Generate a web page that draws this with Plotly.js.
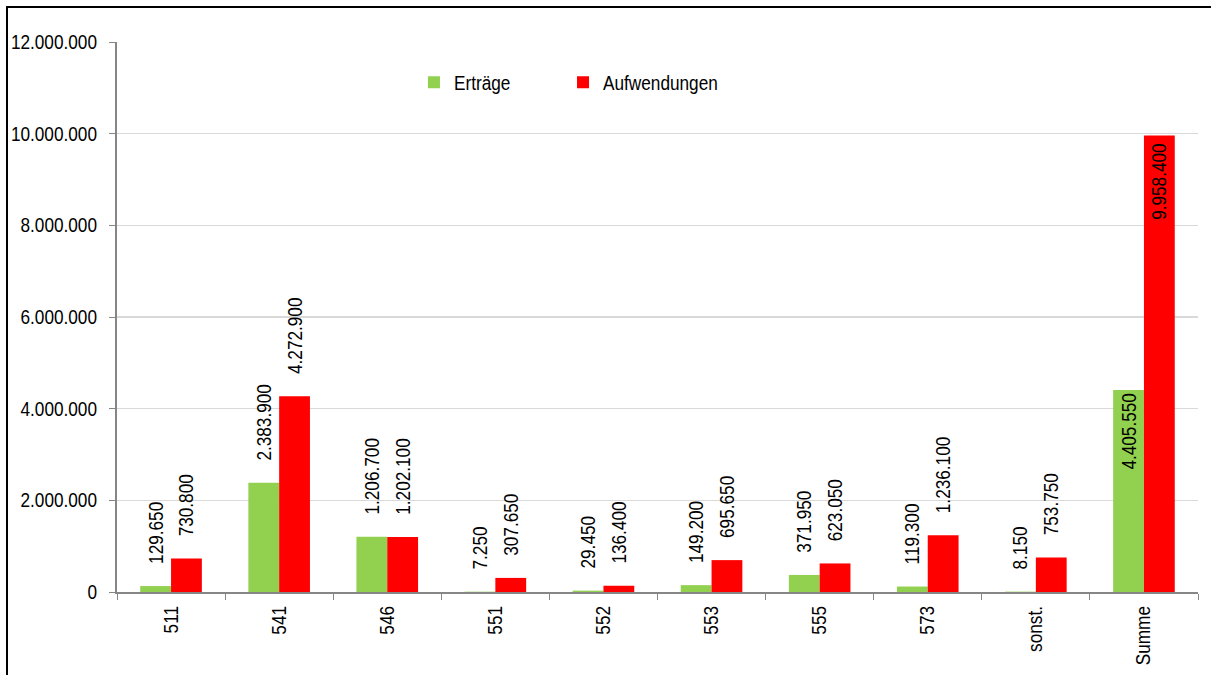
<!DOCTYPE html>
<html>
<head>
<meta charset="utf-8">
<script src="https://cdn.plot.ly/plotly-3.0.1.min.js"></script>
<style>
  html, body { margin: 0; padding: 0; background: #fff; width: 1211px; height: 675px; overflow: hidden; }
  #frame { position: absolute; left: 6px; top: 6px; width: 1205px; height: 669px; border-left: 2px solid #000; border-top: 2px solid #000; }
  #chart { width: 1203px; height: 667px; }
</style>
</head>
<body>
<div id="frame"><div id="chart"></div></div>
<script>
const categories = ["511", "541", "546", "551", "552", "553", "555", "573", "sonst.", "Summe"];
const ertraege = [129650, 2383900, 1206700, 7250, 29450, 149200, 371950, 119300, 8150, 4405550];
const aufwendungen = [730800, 4272900, 1202100, 307650, 136400, 695650, 623050, 1236100, 753750, 9958400];
const seriesNames = ["Erträge", "Aufwendungen"];
const yTicks = [0, 2000000, 4000000, 6000000, 8000000, 10000000, 12000000];

const FONT = "Liberation Sans, Arial, sans-serif";
const FS = 20;
const NARROW = 0.86; // horizontal squeeze to imitate a narrow font
const lastIdx = categories.length - 1;
const positions = categories.map((c, i) => i === lastIdx ? "inside" : "outside");

function barTrace(name, values, color, legendId, lastSuffix) {
  return {
    type: "bar",
    name: name,
    legend: legendId,
    x: categories,
    y: values,
    marker: { color: color, line: { width: 0 } },
    texttemplate: categories.map((c, i) => i === lastIdx ? "%{y:,.0f}" + lastSuffix : "\u2007\u2007%{y:,.0f}"),
    textposition: positions,
    insidetextanchor: "end",
    textangle: -90,
    constraintext: "none",
    cliponaxis: false,
    textfont: { family: FONT, size: FS, color: "#000" },
    hoverinfo: "x+y"
  };
}

const data = [
  barTrace(seriesNames[0], ertraege, "#92D050", "legend", ""),
  barTrace(seriesNames[1], aufwendungen, "#FF0000", "legend2", "\u2008")
];

const legendBase = {
  orientation: "h",
  xanchor: "left",
  y: 0.927,
  yanchor: "middle",
  bgcolor: "rgba(0,0,0,0)",
  font: { family: FONT, size: FS, color: "#000" },
  itemwidth: 30
};

const layout = {
  width: 1203,
  height: 667,
  margin: { l: 109, r: 13, t: 34, b: 83 },
  paper_bgcolor: "#fff",
  plot_bgcolor: "#fff",
  separators: ",.",
  barmode: "group",
  bargap: 0.43,
  bargroupgap: 0,
  font: { family: FONT, size: FS, color: "#000" },
  showlegend: true,
  legend: Object.assign({}, legendBase, { x: 0.2747 }),
  legend2: Object.assign({}, legendBase, { x: 0.4126 }),
  xaxis: {
    type: "category",
    showline: true,
    linecolor: "#868686",
    linewidth: 2,
    ticks: "outside",
    tickson: "boundaries",
    ticklen: 6,
    tickcolor: "#868686",
    tickwidth: 1,
    tickangle: -90,
    ticklabelstandoff: 4,
    tickfont: { family: FONT, size: FS, color: "#000" },
    showgrid: false,
    zeroline: false,
    fixedrange: true
  },
  yaxis: {
    range: [0, 12000000],
    tickvals: yTicks,
    tickformat: ",.0f",
    showline: true,
    linecolor: "#868686",
    linewidth: 2,
    ticks: "outside",
    ticklen: 6,
    tickcolor: "#868686",
    tickwidth: 1,
    ticklabelstandoff: 8,
    tickfont: { family: FONT, size: FS, color: "#000" },
    showgrid: true,
    gridcolor: "#d9d9d9",
    gridwidth: 1.5,
    zeroline: false,
    fixedrange: true
  }
};

function narrowTexts(gd) {
  gd.querySelectorAll("text").forEach(t => {
    if (!t.textContent || t.querySelector("tspan")) return;
    let full;
    try { full = t.getComputedTextLength(); } catch (e) { return; }
    if (!full) return;
    if (t.classList.contains("bartext")) {
      const x0 = parseFloat(t.getAttribute("x")) || 0;
      if (t.classList.contains("bartext-outside")) {
        t.setAttribute("text-anchor", "start");
        t.style.textAnchor = "start";
        t.setAttribute("x", x0 - full / 2);
      } else if (t.classList.contains("bartext-inside")) {
        t.setAttribute("text-anchor", "end");
        t.style.textAnchor = "end";
        t.setAttribute("x", x0 + full / 2);
      }
    }
    t.setAttribute("textLength", full * NARROW);
    t.setAttribute("lengthAdjust", "spacingAndGlyphs");
  });
}

Plotly.newPlot("chart", data, layout, { displayModeBar: false, staticPlot: true })
  .then(gd => narrowTexts(gd));
</script>
</body>
</html>
